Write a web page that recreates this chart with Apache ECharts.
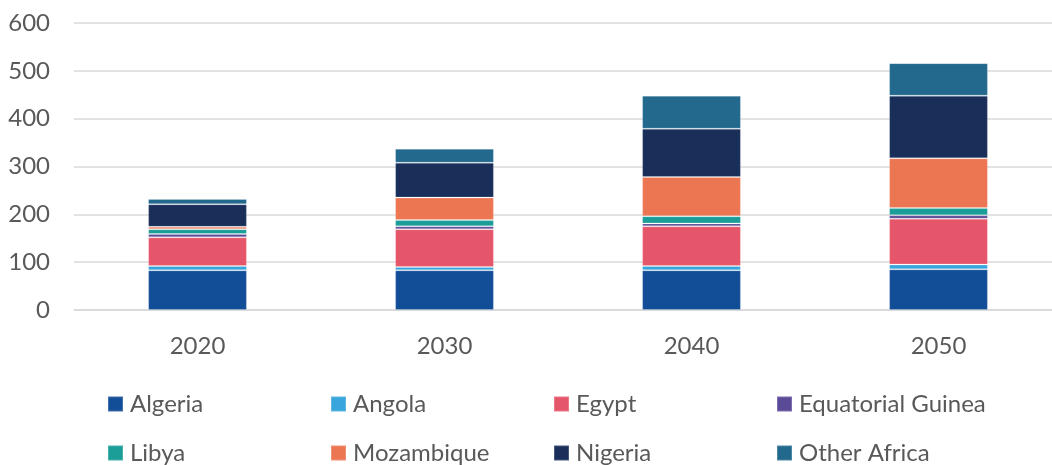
<!DOCTYPE html>
<html><head><meta charset="utf-8">
<script src="https://cdn.jsdelivr.net/npm/echarts@6/dist/echarts.min.js"></script>
<style>html,body{margin:0;padding:0;background:#fff;overflow:hidden;width:1052px;height:465px}#c{width:1064px;height:465px}</style>
</head><body><div id="c"></div>
<script>
const categories = ['2020','2030','2040','2050'];
const algeria = [83, 83, 83, 85];
const angola = [9, 7, 9, 10];
const egypt = [60, 79, 83, 96];
const eqGuinea = [7, 6, 6, 7];
const libya = [10, 13, 15, 15];
const mozambique = [5, 47, 82, 104];
const nigeria = [47, 73, 101, 131];
const otherAfrica = [11, 29, 69, 68];
const yTicks = [0, 100, 200, 300, 400, 500, 600];

const seriesDefs = [
  ['Algeria', algeria, '#124e97'],
  ['Angola', angola, '#38a6dc'],
  ['Egypt', egypt, '#e6566a'],
  ['Equatorial Guinea', eqGuinea, '#5b4a98'],
  ['Libya', libya, '#1b9e98'],
  ['Mozambique', mozambique, '#ec7652'],
  ['Nigeria', nigeria, '#192f59'],
  ['Other Africa', otherAfrica, '#22698d']
];
const font = 'Lato, "Open Sans", sans-serif';
const legendPos = [[102,387],[325,387],[548,387],[771,387],[102,436],[325,436],[548,436],[771,436]];
const chart = echarts.init(document.getElementById('c'), null, {renderer:'canvas'});
chart.setOption({
  animation: false,
  textStyle: {fontFamily: font},
  grid: {left: 74, width: 988, top: 23, bottom: 155, containLabel: false},
  legend: seriesDefs.map((d,i) => ({
    data: [d[0]], left: legendPos[i][0], top: legendPos[i][1],
    icon: 'rect', itemWidth: 15, itemHeight: 15, itemGap: 10,
    textStyle: {fontSize: 24, color: '#595959', fontFamily: font, padding: [0,0,0,2]}
  })),
  xAxis: {
    type: 'category', data: categories,
    axisLine: {lineStyle: {color: '#d9d9d9', width: 1.5}},
    axisTick: {show: false},
    axisLabel: {fontSize: 24, color: '#595959', margin: 24, fontFamily: font}
  },
  yAxis: {
    type: 'value', min: 0, max: 600, interval: 100,
    axisLine: {show: false}, axisTick: {show: false},
    splitLine: {lineStyle: {color: '#d9d9d9', width: 1.5}},
    axisLabel: {fontSize: 24, color: '#595959', margin: 24, fontFamily: font}
  },
  series: seriesDefs.map(d => ({
    name: d[0], type: 'bar', stack: 'total', data: d[1], barWidth: '40%',
    itemStyle: {color: d[2], borderColor: 'rgba(255,255,255,0.2)', borderWidth: 1}
  }))
});
</script></body></html>
